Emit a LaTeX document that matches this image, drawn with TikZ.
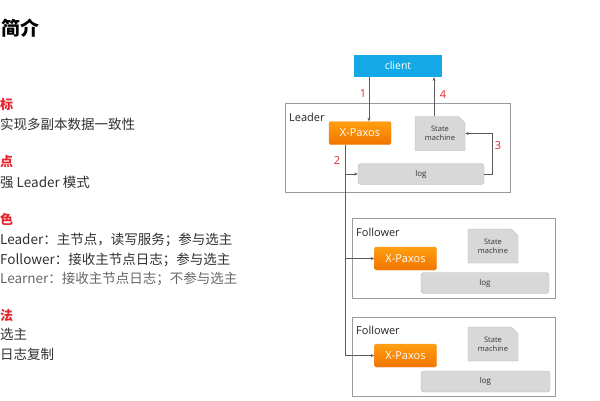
\documentclass[tikz,border=0pt]{standalone}
\usepackage{fontspec}
\setmainfont{Open Sans}
\newfontfamily\cjk{Noto Sans CJK SC}
\usepackage{xcolor}
\usetikzlibrary{positioning}
\usetikzlibrary{arrows.meta}
\usetikzlibrary{shapes.misc}
\usetikzlibrary{calc}

\definecolor{clientblue}{HTML}{14A9E6}
\definecolor{pxtop}{HTML}{FFA010}
\definecolor{pxbot}{HTML}{F27300}
\definecolor{boxgray}{HTML}{D8D8D8}
\definecolor{edgegray}{HTML}{B5B5B5}
\definecolor{framegray}{HTML}{9A9A9A}
\definecolor{linegray}{HTML}{5A5A5A}
\definecolor{hired}{HTML}{E5232B}
\definecolor{bodytext}{HTML}{303030}

\begin{document}
\begin{tikzpicture}[
    x=1pt, y=-1pt,
    title/.style={anchor=base west, inner sep=0pt, font=\cjk\bfseries\fontsize{19}{22}\selectfont, text=black},
    head/.style={anchor=base west, inner sep=0pt, font=\cjk\bfseries\fontsize{13}{15}\selectfont, text=hired},
    item/.style={anchor=base west, inner sep=0pt, font=\cjk\fontsize{13.5}{15}\selectfont, text=bodytext},
    client/.style={
        fill=clientblue,
        text=white,
        minimum width=88pt,
        minimum height=22pt,
        inner sep=0pt,
        font=\fontsize{10.5}{12}\selectfont
    },
    server/.style={
        draw=framegray,
        line width=0.9pt,
        inner sep=0pt
    },
    role/.style={anchor=west, inner sep=0pt, font=\fontsize{11}{12}\selectfont, text=black!85},
    paxos/.style={
        top color=pxtop,
        bottom color=pxbot,
        draw=pxbot!80!white,
        line width=0.4pt,
        rounded corners=1.5pt,
        text=white,
        minimum width=62pt,
        minimum height=23pt,
        inner sep=0pt,
        font=\fontsize{11}{12}\selectfont
    },
    statebox/.style={
        chamfered rectangle,
        chamfered rectangle corners=north east,
        chamfered rectangle xsep=3pt,
        fill=boxgray,
        draw=edgegray,
        line width=0.4pt,
        minimum width=50pt,
        minimum height=34pt,
        inner sep=0pt,
        align=center,
        text=black!80,
        font=\fontsize{7.5}{9}\selectfont
    },
    logbox/.style={
        fill=boxgray,
        draw=edgegray,
        line width=0.4pt,
        rounded corners=3pt,
        minimum width=127pt,
        minimum height=21pt,
        inner sep=0pt,
        text=black!80,
        font=\fontsize{8}{9}\selectfont
    },
    conn/.style={
        draw=linegray,
        line width=0.8pt,
        -{Stealth[length=3.5pt,width=3pt]}
    },
    step num/.style={text=hired, inner sep=0pt, font=\fontsize{11}{12}\selectfont}
]

\useasboundingbox (0,0) rectangle (600,400);

% --- Left column
\node[title] (intro) at (1,35) {简介};
\node[head] (goal) at (0,109) {标};
\node[item] (goaltxt) at (0,129) {实现多副本数据一致性};
\node[head] (feat) at (0,166) {点};
\node[item] (feattxt) at (0,187) {强 Leader 模式};
\node[head] (roles) at (0,224) {色};
\node[item] (roleleader) at (0,244) {Leader：主节点，读写服务；参与选主};
\node[item] (rolefollower) at (0,264) {Follower：接收主节点日志；参与选主};
\node[item, text=black!60] (rolelearner) at (0,283) {Learner：接收主节点日志；不参与选主};
\node[head] (algo) at (0,320) {法};
\node[item] (algoelect) at (0,339) {选主};
\node[item] (algolog) at (0,359) {日志复制};

% --- Client
\node[client] (client) at (398,66) {client};

% --- Leader
\node[server, minimum width=225pt, minimum height=89pt] (leader) at (397.5,147.5) {};
\node[role] (leadertxt) at (289,117) {Leader};
\node[paxos] (pxa) at (360,133) {X-Paxos};
\node[statebox] (sma) at (440,133.5) {State\\machine};
\node[logbox, minimum width=126pt] (loga) at (421,174) {log};

% --- Follower 1
\node[server, minimum width=203pt, minimum height=80pt] (followera) at (454,258.5) {};
\node[role] (followeratxt) at (356,232) {Follower};
\node[paxos] (pxb) at (405.5,258.5) {X-Paxos};
\node[statebox] (smb) at (493,246) {State\\machine};
\node[logbox, minimum width=128pt] (logb) at (485,283) {log};

% --- Follower 2
\node[server, minimum width=203pt, minimum height=79pt] (followerb) at (454,356.5) {};
\node[role] (followerbtxt) at (356,330) {Follower};
\node[paxos] (pxc) at (405.5,355.5) {X-Paxos};
\node[statebox] (smc) at (493,344) {State\\machine};
\node[logbox, minimum width=129pt] (logc) at (485.5,381.5) {log};

% --- Connections
\draw[conn] ([xshift=9pt]pxa.north |- client.south) -- ([xshift=9pt]pxa.north);
\draw[conn] ([xshift=-6pt]sma.north) -- ([xshift=-6pt]sma.north |- client.south);
\draw[conn] (loga.east) -- ++(8,0) |- (sma.east);
\coordinate (trunk) at ([xshift=-15pt]pxa.south);
\draw[conn] (trunk) |- (pxc.west);
\draw[conn] (trunk |- loga.west) -- (loga.west);
\draw[conn] (trunk |- pxb.west) -- (pxb.west);

% --- Step numbers
\node[step num] (one) at (363,94) {1};
\node[step num] (two) at (337,161) {2};
\node[step num] (three) at (498,146) {3};
\node[step num] (four) at (443,95) {4};

\end{tikzpicture}
\end{document}
